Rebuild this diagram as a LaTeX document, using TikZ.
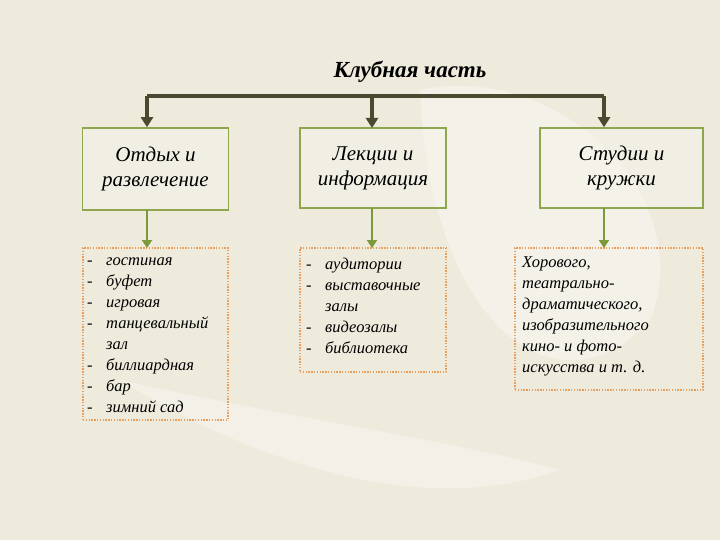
\documentclass[tikz,border=0pt]{standalone}
\usepackage{fontspec}
\setmainfont{Liberation Serif}
\usetikzlibrary{arrows.meta}
\definecolor{bg}{HTML}{EEEBDD}
\definecolor{dk}{HTML}{4A4A30}
\definecolor{gr}{HTML}{8FA64E}
\definecolor{ar}{HTML}{7C9A3C}
\definecolor{dt}{HTML}{E8A060}
\tikzset{
 hbox/.style={draw=gr,line width=1.6pt,fill=bg!60!white,fill opacity=0.5,text opacity=1,inner sep=0pt,font=\itshape\fontsize{21}{25}\selectfont,align=center},
 lbox/.style={draw=dt,line width=1.4pt,dash pattern=on 1.4pt off 1.4pt,inner sep=0pt},
 ltext/.style={font=\itshape\fontsize{16.5}{21}\selectfont,align=left,anchor=north west,inner sep=0pt},
 darr/.style={draw=dk,line width=3.4pt,-{Triangle[length=10pt,width=12pt]}},
 garr/.style={draw=ar,line width=2.6pt,-{Triangle[length=8pt,width=10pt]}}
}
\newcommand{\dd}{\makebox[19pt][l]{-}}
\newcommand{\ee}{\makebox[19pt][l]{}}
\begin{document}
\begin{tikzpicture}[x=1pt,y=-1pt]
\useasboundingbox (0,0) rectangle (720,540);
\fill[bg] (0,0) rectangle (720,540);
\fill[white,opacity=0.35] (420,90) .. controls (560,60) and (700,200) .. (650,320) .. controls (560,420) and (430,330) .. (420,90);
\fill[white,opacity=0.3] (120,380) .. controls (250,460) and (420,520) .. (560,470) .. controls (450,440) and (300,420) .. (120,380);
\node[font=\itshape\bfseries\fontsize{23}{27}\selectfont] (t) at (410,72) {Клубная часть};
\node[hbox,minimum width=146pt,minimum height=82pt] (b1) at (155.5,169) {Отдых и\\развлечение};
\node[hbox,minimum width=146pt,minimum height=80pt] (b2) at (373,168) {Лекции и\\информация};
\node[hbox,minimum width=163pt,minimum height=80pt] (b3) at (621.5,168) {Студии и\\кружки};
\node[lbox,minimum width=145pt,minimum height=172pt] (l1) at (155.5,334) {};
\node[lbox,minimum width=146pt,minimum height=124pt] (l2) at (373,310) {};
\node[lbox,minimum width=188pt,minimum height=142pt] (l3) at (609,319) {};
\coordinate (j) at (147,96);
\coordinate (k) at (604,96);
\draw[dk,line width=3.4pt] (j) -- (k);
\draw[darr] (j) -- (j|-b1.north);
\draw[darr] (372,96) -- (372,128);
\draw[darr] (k) -- (k|-b3.north);
\draw[garr] (147,210) -- (147,248);
\draw[garr] (372,208) -- (372,248);
\draw[garr] (604,208) -- (604,248);
\node[ltext] (x1) at (87,258) {\dd гостиная\\\dd буфет\\\dd игровая\\\dd танцевальный\\\ee зал\\\dd биллиардная\\\dd бар\\\dd зимний сад};
\node[ltext] (x2) at (306,258) {\dd аудитории\\\dd выставочные\\\ee залы\\\dd видеозалы\\\dd библиотека};
\node[ltext] (x3) at (522,256) {Хорового,\\театрально-\\драматического,\\изобразительного\\кино- и фото-\\искусства и т. д.};
\end{tikzpicture}
\end{document}
